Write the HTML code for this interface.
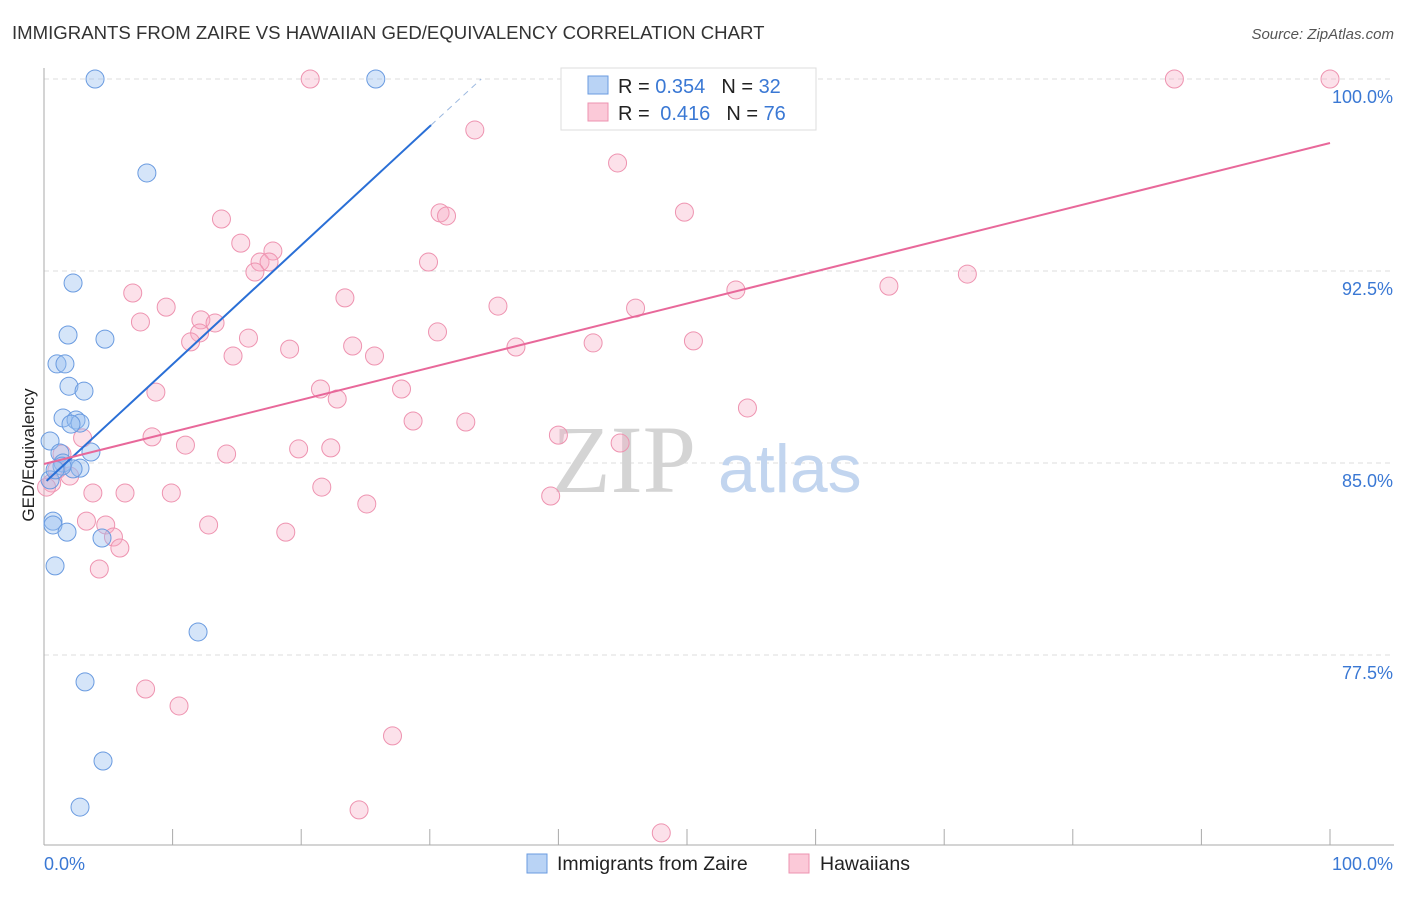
<!DOCTYPE html>
<html><head><meta charset="utf-8"><style>
body{margin:0;background:#fff;font-family:"Liberation Sans",sans-serif;}
svg text{font-family:"Liberation Sans",sans-serif;}
</style></head><body>
<svg id="chart" width="1406" height="892" xmlns="http://www.w3.org/2000/svg">
<text x="12" y="39" font-size="18.6" fill="#333">IMMIGRANTS FROM ZAIRE VS HAWAIIAN GED/EQUIVALENCY CORRELATION CHART</text>
<text x="1394" y="39" font-size="15" fill="#555" font-style="italic" text-anchor="end">Source: ZipAtlas.com</text>
<g id="grid"></g>
<g id="axes"></g>
<text x="552" y="492" font-size="96" fill="#d4d4d4" style="font-family:'Liberation Serif',serif">ZIP</text>
<text x="718" y="492" font-size="68" fill="#c2d5ef">atlas</text>
<g id="marks"></g>
<text transform="translate(34,455) rotate(-90)" font-size="17" fill="#222" text-anchor="middle">GED/Equivalency</text>
<g>
<rect x="561" y="68" width="255" height="62" fill="#fff" stroke="#ddd"/>
<rect x="588" y="76" width="20" height="18" fill="#b9d3f5" stroke="#6a9be0"/>
<rect x="588" y="103" width="20" height="18" fill="#fbc9d8" stroke="#ee93b0"/>
<text x="618" y="93" font-size="20" fill="#222">R = <tspan fill="#3a78d4">0.354</tspan><tspan dx="16">N = </tspan><tspan fill="#3a78d4">32</tspan></text>
<text x="618" y="120" font-size="20" fill="#222">R = <tspan fill="#3a78d4" dx="5">0.416</tspan><tspan dx="16">N = </tspan><tspan fill="#3a78d4">76</tspan></text>
</g>
<g>
<rect x="527" y="854" width="20" height="19" fill="#b9d3f5" stroke="#6a9be0"/>
<text x="557" y="870" font-size="19.5" fill="#222">Immigrants from Zaire</text>
<rect x="789" y="854" width="20" height="19" fill="#fbc9d8" stroke="#ee93b0"/>
<text x="820" y="870" font-size="19.5" fill="#222">Hawaiians</text>
</g>
</svg>
<script>
const blueX=[3.97,25.8,8.0,2.26,1.87,4.74,1.01,1.63,1.94,3.11,1.48,2.49,2.80,2.10,0.47,3.65,1.24,1.48,2.80,2.26,0.47,0.70,0.70,1.79,4.51,0.86,11.98,3.19,4.59,2.80,1.40,0.86];
const blueY=[100,100,96.33,92.03,90.0,89.84,88.87,88.87,88.0,87.81,86.76,86.68,86.56,86.52,85.86,85.43,85.39,85.0,84.8,84.77,84.34,82.73,82.58,82.30,82.07,80.98,78.40,76.45,73.36,71.56,84.88,84.73];
const pinkX=[20.7,87.9,100,33.5,44.6,49.8,13.8,30.8,31.3,15.3,17.8,16.8,17.5,29.9,16.4,71.8,65.7,6.9,9.5,23.4,35.3,46.0,53.8,7.5,12.2,13.3,12.1,30.6,11.4,15.9,19.1,24.0,36.7,42.7,50.5,14.7,25.7,8.7,21.5,22.8,27.8,54.7,28.7,32.8,8.4,40.0,44.8,11.0,3.0,14.2,19.8,22.3,1.4,1.0,2.0,0.6,0.2,3.8,6.3,9.9,21.6,39.4,25.1,3.3,4.8,12.8,18.8,5.4,5.9,4.3,7.9,10.5,27.1,24.5,48.0];
const pinkY=[100,100,100,98.01,96.72,94.80,94.53,94.77,94.65,93.59,93.28,92.85,92.85,92.85,92.46,92.38,91.91,91.64,91.09,91.45,91.13,91.05,91.76,90.51,90.59,90.47,90.08,90.12,89.73,89.88,89.45,89.57,89.53,89.69,89.77,89.18,89.18,87.77,87.89,87.50,87.89,87.15,86.64,86.60,86.02,86.09,85.78,85.70,85.98,85.35,85.55,85.59,85.35,84.73,84.49,84.22,84.06,83.83,83.83,83.83,84.06,83.71,83.40,82.73,82.58,82.58,82.30,82.11,81.68,80.86,76.17,75.51,74.34,71.45,70.55];
const yTicks=[100,92.5,85,77.5];
const yTickLabels=["100.0%","92.5%","85.0%","77.5%"];
const xTicks=[0,10,20,30,40,50,60,70,80,90,100];
const blueLine=[0.2,84.3,30.1,98.2,34.0,100];
const pinkLine=[0,84.96,100,97.5];

const NS="http://www.w3.org/2000/svg";
const X=v=>44+v*12.86;
const Y=v=>79+(100-v)*25.6;
function mk(tag,attrs,parent){const e=document.createElementNS(NS,tag);for(const k in attrs)e.setAttribute(k,attrs[k]);parent.appendChild(e);return e;}
const grid=document.getElementById('grid'),axes=document.getElementById('axes'),marks=document.getElementById('marks');
yTicks.forEach((t,i)=>{
  const l=mk('line',{x1:44,x2:1394,y1:Y(t),y2:Y(t),stroke:'#ddd','stroke-dasharray':'5,4'},grid);
  
  
  const tx=mk('text',{x:1393,y:Y(t)+24,'font-size':18,fill:'#3a78d4','text-anchor':'end'},axes);
  tx.textContent=yTickLabels[i];
  
  
});
let a=mk('line',{x1:44,x2:44,y1:68,y2:845,stroke:'#aaa'},axes);


a=mk('line',{x1:44,x2:1394,y1:845,y2:845,stroke:'#aaa'},axes);


xTicks.forEach(t=>{
  const l=mk('line',{x1:X(t),x2:X(t),y1:829,y2:845,stroke:'#aaa'},axes);
  
  
});
let t1=mk('text',{x:44,y:870,'font-size':18,fill:'#3a78d4'},axes);t1.textContent='0.0%';


let t2=mk('text',{x:1393,y:870,'font-size':18,fill:'#3a78d4','text-anchor':'end'},axes);t2.textContent='100.0%';


pinkX.forEach((x,i)=>{
  const c=mk('circle',{cx:X(x),cy:Y(pinkY[i]),r:9,fill:'rgba(246,170,196,0.35)',stroke:'#ee93b0','stroke-width':1},marks);
  
  
});
blueX.forEach((x,i)=>{
  const c=mk('circle',{cx:X(x),cy:Y(blueY[i]),r:9,fill:'rgba(150,190,240,0.4)',stroke:'#6a9be0','stroke-width':1},marks);
  
  
});
let bl=mk('line',{x1:X(blueLine[0]),y1:Y(blueLine[1]),x2:X(blueLine[2]),y2:Y(blueLine[3]),stroke:'#2a6fd6','stroke-width':2},marks);


let bd=mk('line',{x1:X(blueLine[2]),y1:Y(blueLine[3]),x2:X(blueLine[4]),y2:Y(blueLine[5]),stroke:'#9bb8e0','stroke-width':1,'stroke-dasharray':'6,5'},marks);


let pl=mk('line',{x1:X(pinkLine[0]),y1:Y(pinkLine[1]),x2:X(pinkLine[2]),y2:Y(pinkLine[3]),stroke:'#e8689a','stroke-width':2},marks);


</script>
</body></html>
